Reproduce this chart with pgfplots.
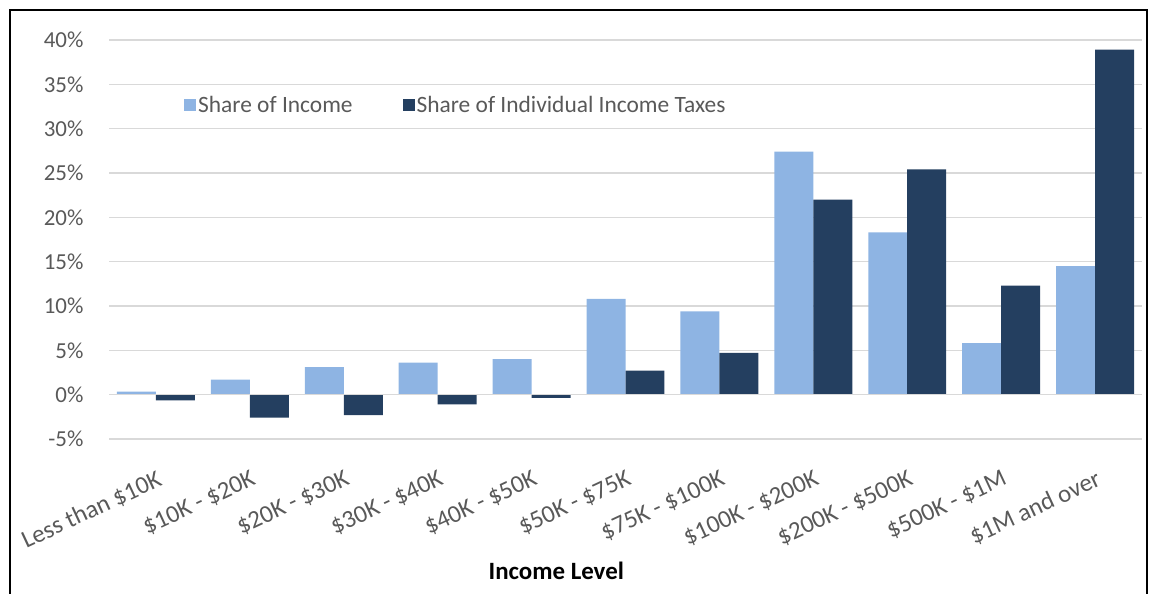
\documentclass[border=0pt]{standalone}
\usepackage{pgfplots}
\pgfplotsset{compat=1.18}
\usepackage{fontspec}
\setmainfont{Carlito}
\definecolor{lb}{HTML}{8EB4E3}
\definecolor{db}{HTML}{243F60}
\definecolor{tg}{HTML}{595959}
\definecolor{gl}{HTML}{D9D9D9}
\begin{document}
\begin{tikzpicture}[x=1bp,y=1bp]
\path[use as bounding box] (0,0) rectangle (1152,594);
\draw[line width=2bp] (10,-5)--(10,584)--(1147,584)--(1147,-5);
\begin{axis}[
  at={(109bp,155bp)}, anchor=south west,
  scale only axis, width=1033bp, height=399bp,
  xmin=-0.5, xmax=10.5, ymin=-5, ymax=40,
  axis line style={draw=none},
  major tick length=0pt,
  ymajorgrids, grid style={gl, line width=1.5bp},
  ytick={-5,0,5,10,15,20,25,30,35,40},
  yticklabels={-5\%,0\%,5\%,10\%,15\%,20\%,25\%,30\%,35\%,40\%},
  yticklabel style={tg, font=\fontsize{23}{27}\selectfont, xshift=-22bp},
  xtick={0,...,10},
  xticklabels={Less than \$10K, \$10K - \$20K, \$20K - \$30K, \$30K - \$40K, \$40K - \$50K, \$50K - \$75K, \$75K - \$100K, \$100K - \$200K, \$200K - \$500K, \$500K - \$1M, \$1M and over},
  xticklabel style={tg, font=\fontsize{25}{30}\selectfont, inner sep=0pt, yshift=-30bp, xshift=0bp, anchor=north east, rotate=25},
  xlabel={\textbf{Income Level}},
  xlabel style={at={(axis description cs:0.433,-0.331)}, anchor=center, font=\fontsize{25}{30}\selectfont, black},
  ybar, bar width=0.415,
  legend style={at={(0.0697,0.837)}, anchor=west, draw=none, fill=none,
    legend columns=2, font=\fontsize{23.5}{28}\selectfont, text=tg,
    /tikz/every even column/.append style={column sep=48bp}},
  legend image code/.code={\fill[#1] (-9bp,-6bp) rectangle (3bp,6bp);},
]
\addplot[fill=lb, draw=none, bar shift=-0.2075] coordinates {
(0,0.34) (1,1.7) (2,3.1) (3,3.6) (4,4.0) (5,10.8) (6,9.4) (7,27.4) (8,18.3) (9,5.8) (10,14.5)};
\addlegendentry{Share of Income}
\addplot[fill=db, draw=none, bar shift=0.2075] coordinates {
(0,-0.64) (1,-2.6) (2,-2.3) (3,-1.1) (4,-0.37) (5,2.7) (6,4.7) (7,22.0) (8,25.4) (9,12.3) (10,38.9)};
\addlegendentry{Share of Individual Income Taxes}
\draw[gl, line width=1.5bp] (axis cs:-0.5,0) -- (axis cs:10.5,0);
\end{axis}
\end{tikzpicture}
\end{document}
